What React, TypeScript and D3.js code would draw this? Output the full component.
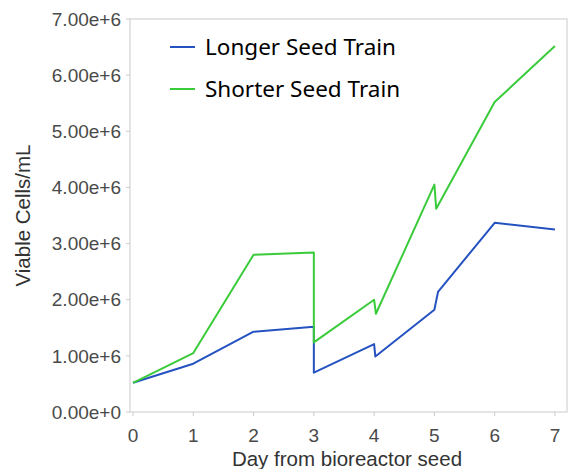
import React from 'react';
import * as d3 from 'd3';

const longerDays = [0, 1, 2, 3, 3, 4, 4.02, 5, 5.06, 6, 7];
const longerCells = [0.52e6, 0.86e6, 1.43e6, 1.52e6, 0.7e6, 1.21e6, 0.99e6, 1.82e6, 2.14e6, 3.37e6, 3.25e6];

const shorterDays = [0, 1, 2, 3, 3, 4, 4.03, 5, 5.03, 6, 7];
const shorterCells = [0.52e6, 1.05e6, 2.8e6, 2.84e6, 1.24e6, 2.0e6, 1.75e6, 4.05e6, 3.62e6, 5.52e6, 6.52e6];

const xTicks = [0, 1, 2, 3, 4, 5, 6, 7];
const yTicks = [0, 1e6, 2e6, 3e6, 4e6, 5e6, 6e6, 7e6];

const seriesNames = ['Longer Seed Train', 'Shorter Seed Train'];
const seriesColors = ['#2452c0', '#3acb3a'];

const W = 570;
const H = 469;

const App = () => {
  const x = d3.scaleLinear().domain([-0.05, 7.2]).range([130, 567]);
  const y = d3.scaleLinear().domain([0, 7e6]).range([412, 19]);
  const fmt = d3.format('.2e');

  const line = d3.line<[number, number]>()
    .x(d => x(d[0]))
    .y(d => y(d[1]));

  const series = [
    longerDays.map((d, i) => [d, longerCells[i]] as [number, number]),
    shorterDays.map((d, i) => [d, shorterCells[i]] as [number, number]),
  ];

  const [x0, x1] = x.range();
  const [y0, y1] = y.range();
  const tickFont = { fontFamily: 'Liberation Sans, Arial, sans-serif', fontSize: 19, fill: '#4a4a4a' };
  const titleFont = { fontFamily: 'Liberation Sans, Arial, sans-serif', fontSize: 20.5, fill: '#333' };

  return (
    <svg width={W} height={H} style={{ position: 'absolute', left: 0, top: 0, background: '#fff' }}>
      {/* frame */}
      <rect x={x0} y={y1} width={x1 - x0} height={y0 - y1} fill="none" stroke="#dcdcdc" strokeWidth={1.5} />

      {/* y axis ticks */}
      {yTicks.map(t => (
        <g key={t} transform={`translate(0,${y(t)})`}>
          <line x1={x0 - 4} x2={x0} stroke="#ccc" />
          <text x={x0 - 9} dy="0.35em" textAnchor="end" {...tickFont}>{fmt(t)}</text>
        </g>
      ))}

      {/* x axis ticks */}
      {xTicks.map(t => (
        <g key={t} transform={`translate(${x(t)},0)`}>
          <line y1={y0} y2={y0 + 4} stroke="#ccc" />
          <text y={442} textAnchor="middle" {...tickFont}>{t}</text>
        </g>
      ))}

      <text x={(x(0) + x(7)) / 2 + 3} y={466} textAnchor="middle" {...titleFont}>
        Day from bioreactor seed
      </text>
      <text transform={`translate(30,${(y0 + y1) / 2}) rotate(-90)`} textAnchor="middle" {...titleFont}>
        Viable Cells/mL
      </text>

      {series.map((s, i) => (
        <path key={i} d={line(s) || ''} fill="none" stroke={seriesColors[i]} strokeWidth={2} strokeLinejoin="round" />
      ))}

      {/* legend */}
      {seriesNames.map((n, i) => (
        <g key={n} transform={`translate(170,${47 + i * 42})`}>
          <line x1={0} x2={25} stroke={seriesColors[i]} strokeWidth={2} />
          <text x={35} dy="0.35em" fontFamily="Noto Sans, sans-serif" fontSize={22.5} fill="#000">{n}</text>
        </g>
      ))}
    </svg>
  );
};

export default App;
